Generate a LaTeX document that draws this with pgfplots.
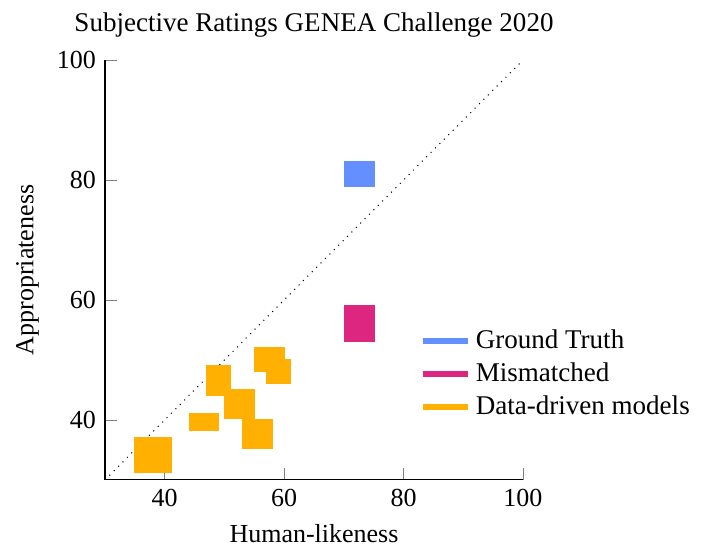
\documentclass[border=0pt]{standalone}
\usepackage{fontspec}
\setmainfont{Liberation Serif}
\usepackage{pgfplots}
\pgfplotsset{compat=1.18}
\definecolor{gtblue}{HTML}{648FFF}
\definecolor{mmmag}{HTML}{DC267F}
\definecolor{ddorange}{HTML}{FFB000}
\begin{document}
\begin{tikzpicture}
\begin{axis}[
  scale only axis,
  width=160.8pt, height=161.5pt,
  xmin=30, xmax=100, ymin=30, ymax=100,
  axis lines=left,
  axis line style={-},
  tick align=inside,
  major tick length=4.6pt,
  xtick={40,60,80,100}, ytick={40,60,80,100},
  /pgf/number format/assume math mode=true,
  xlabel={Human-likeness},
  ylabel={Appropriateness},
  title={Subjective Ratings GENEA Challenge 2020},
  title style={font=\fontsize{10.4pt}{12.5pt}\selectfont, at={(0.5,1)}, anchor=south, yshift=-0.7pt},
  legend style={draw=none, fill=none, at={(0.753,0.253)}, anchor=west, inner sep=0pt,
    font=\fontsize{10.4pt}{12.5pt}\selectfont},
  legend cell align=left,
]
\addplot[dotted, black, forget plot] coordinates {(30,30) (100,100)};
% Data-driven models
\addplot[fill=ddorange, draw=none, forget plot] coordinates {(34.9,31.1) (41.2,31.1) (41.2,37.2) (34.9,37.2)} -- cycle;
\addplot[fill=ddorange, draw=none, forget plot] coordinates {(44.0,38.1) (49.1,38.1) (49.1,41.2) (44.0,41.2)} -- cycle;
\addplot[fill=ddorange, draw=none, forget plot] coordinates {(46.9,44.0) (51.1,44.0) (51.1,49.2) (46.9,49.2)} -- cycle;
\addplot[fill=ddorange, draw=none, forget plot] coordinates {(49.9,40.1) (55.1,40.1) (55.1,45.2) (49.9,45.2)} -- cycle;
\addplot[fill=ddorange, draw=none, forget plot] coordinates {(53.0,35.1) (58.1,35.1) (58.1,40.2) (53.0,40.2)} -- cycle;
\addplot[fill=ddorange, draw=none, forget plot] coordinates {(55.0,48.0) (60.1,48.0) (60.1,52.2) (55.0,52.2)} -- cycle;
\addplot[fill=ddorange, draw=none, forget plot] coordinates {(57.0,46.0) (61.2,46.0) (61.2,50.2) (57.0,50.2)} -- cycle;
% Ground truth
\addplot[fill=gtblue, draw=none, forget plot] coordinates {(70.0,78.9) (75.2,78.9) (75.2,83.1) (70.0,83.1)} -- cycle;
% Mismatched
\addplot[fill=mmmag, draw=none, forget plot] coordinates {(70.0,53.0) (75.2,53.0) (75.2,59.2) (70.0,59.2)} -- cycle;
\addlegendimage{line width=2.3pt, color=gtblue}
\addlegendentry{Ground Truth}
\addlegendimage{line width=2.3pt, color=mmmag}
\addlegendentry{Mismatched}
\addlegendimage{line width=2.3pt, color=ddorange}
\addlegendentry{Data-driven models}
\end{axis}
\pgfresetboundingbox
\path ([shift={(-40.4pt,-25pt)}]current axis.south west) rectangle ([shift={(70.8pt,23.1pt)}]current axis.north east);
\end{tikzpicture}
\end{document}
